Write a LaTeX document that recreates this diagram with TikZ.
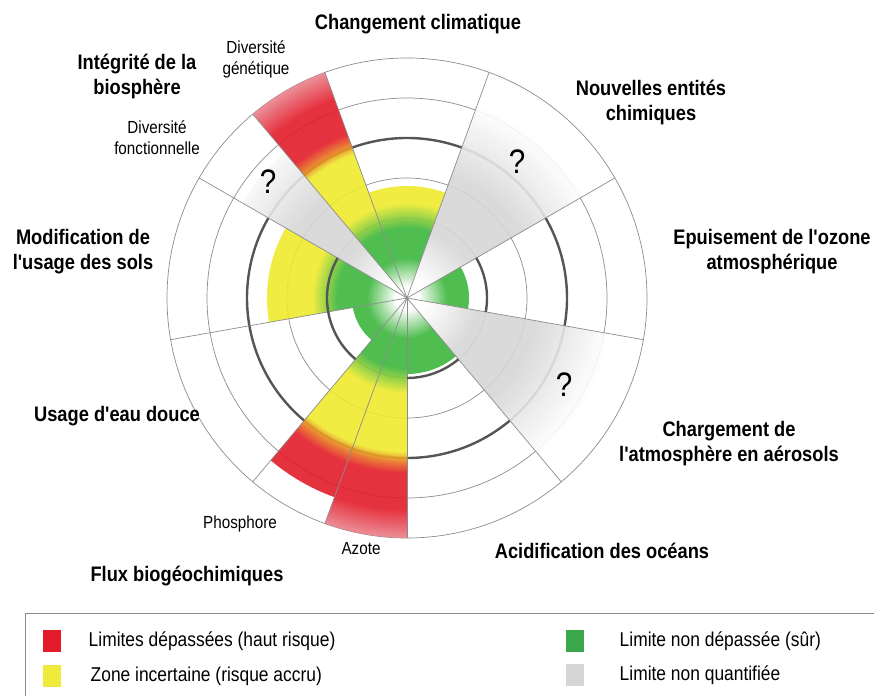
\documentclass[tikz,border=0pt]{standalone}
\usepackage{fontspec}
\setmainfont{Liberation Sans}
\newfontfamily\pbfont[FakeStretch=0.87]{Liberation Sans}
\usetikzlibrary{positioning}

\definecolor{pbgreen}{RGB}{60,182,60}
\definecolor{pbyellow}{RGB}{238,234,45}
\definecolor{pborange}{RGB}{232,120,30}
\definecolor{pbred}{RGB}{226,28,42}
\definecolor{pbpink}{RGB}{234,130,140}
\definecolor{pbgrey}{RGB}{214,214,214}
\definecolor{pbpale}{RGB}{236,236,236}
\definecolor{pbline}{RGB}{140,140,140}
\definecolor{pbdark}{RGB}{85,85,85}
\definecolor{pbkgreen}{RGB}{58,168,74}
\definecolor{pbkyellow}{RGB}{240,234,60}

% radial shadings: 25bp is the outer circle (r = 240)
\pgfdeclareradialshading{safezone}{\pgfpointorigin}{color(0bp)=(white); color(1.2bp)=(white);
  color(4.2bp)=(pbgreen); color(50bp)=(pbgreen)}
\pgfdeclareradialshading{climzone}{\pgfpointorigin}{color(0bp)=(white); color(1.2bp)=(white);
  color(4.2bp)=(pbgreen); color(7.3bp)=(pbgreen); color(9.9bp)=(pbyellow); color(50bp)=(pbyellow)}
\pgfdeclareradialshading{riskzone}{\pgfpointorigin}{color(0bp)=(white); color(1.2bp)=(white);
  color(4.2bp)=(pbgreen); color(7.3bp)=(pbgreen); color(9.9bp)=(pbyellow); color(16bp)=(pbyellow);
  color(17bp)=(pborange); color(18.2bp)=(pbred); color(22bp)=(pbred); color(25bp)=(pbpink); color(50bp)=(pbpink)}
\pgfdeclareradialshading{greyzone}{\pgfpointorigin}{color(0bp)=(white); color(2bp)=(white);
  color(7.3bp)=(pbgrey); color(13.5bp)=(pbgrey); color(17.7bp)=(pbpale); color(21.4bp)=(white); color(50bp)=(white)}

\tikzset{
  pbring/.style={draw=pbline, line width=0.7pt},
  pbbound/.style={draw=pbdark, line width=2.4pt},
  spoke/.style={draw=pbline, line width=0.7pt},
  pbtitle/.style={font=\pbfont\bfseries\fontsize{21}{25}\selectfont, align=center},
  pbsub/.style={font=\pbfont\fontsize{17.5}{21}\selectfont, align=center},
  pbq/.style={font=\pbfont\fontsize{34}{34}\selectfont},
  keytext/.style={font=\pbfont\fontsize{20}{22}\selectfont},
  swatch/.style={minimum width=18pt, minimum height=22pt, inner sep=0pt},
}

% one coloured wedge: shading, start angle, end angle, radius
\newcommand\pbwedge[4]{%
  \begin{scope}
    \clip (C) -- ++(#2:#4) arc[start angle=#2, end angle=#3, radius=#4] -- cycle;
    \shade[shading=#1, fill opacity=.9] (C) circle (240);
  \end{scope}}

\begin{document}
\begin{tikzpicture}[x=1pt, y=1pt]
  \useasboundingbox (0,0) rectangle (874,695);
  \coordinate (C) at (407,397);

  % rings
  \foreach \r in {80,120,200,240}
    \draw[pbring] (C) circle (\r);
  \draw[pbbound] (C) circle (160);

  % the nine boundaries
  \pbwedge{climzone}{70}{110}{112}    % climat
  \pbwedge{greyzone}{30}{70}{205}     % entites
  \pbwedge{safezone}{-10}{30}{62}     % ozone
  \pbwedge{greyzone}{-50}{-10}{215}   % aerosols
  \pbwedge{safezone}{-90}{-50}{76}    % oceans
  \pbwedge{riskzone}{-110}{-90}{243}  % azote
  \pbwedge{riskzone}{-130}{-110}{212} % phosphore
  \pbwedge{safezone}{190}{230}{55}    % eau douce
  \pbwedge{climzone}{150}{190}{140}   % sols
  \pbwedge{greyzone}{130}{150}{190}   % fonctionnelle
  \pbwedge{riskzone}{110}{130}{240}   % genetique

  \foreach \a in {30,70,110,130,150,190,230,250,270,310,350}
    \draw[spoke] (C) -- ++(\a:240);
  \foreach \a/\b in {-10/30, -90/-50, 150/230}
    \draw[pbbound] (C) ++(\a:80) arc[start angle=\a, end angle=\b, radius=80];

  \node[pbq] (q1) at (268,513) {?};
  \node[pbq] (q2) at (517,533) {?};
  \node[pbq] (q3) at (564,310) {?};

  % labels
  \node[pbtitle] (climat) at (418,671) {Changement climatique};
  \node[pbtitle] (biosphere) at (137,619) {Intégrité de la\\biosphère};
  \node[pbsub] (genetique) at (256,636) {Diversité\\génétique};
  \node[pbsub] (fonction) at (157,557) {Diversité\\fonctionnelle};
  \node[pbtitle] (sols) at (83,443) {Modification de\\l'usage des sols};
  \node[pbtitle] (eau) at (117,279) {Usage d'eau douce};
  \node[pbsub] (phosphore) at (240,171) {Phosphore};
  \node[pbsub] (azote) at (361,146) {Azote};
  \node[pbtitle] (flux) at (187,119) {Flux biogéochimiques};
  \node[pbtitle] (oceans) at (602,144) {Acidification des océans};
  \node[pbtitle] (aerosols) at (729,251) {Chargement de\\l'atmosphère en aérosols};
  \node[pbtitle] (ozone) at (772,443) {Epuisement de l'ozone\\atmosphérique};
  \node[pbtitle] (entites) at (651,593) {Nouvelles entités\\chimiques};

  % legend
  \draw[pbline, line width=0.8pt] (25,-10) rectangle (890,82);
  \node[swatch, fill=pbred] (kred) at (52,54) {};
  \node[swatch, fill=pbkyellow] (kyellow) at (52,19) {};
  \node[swatch, fill=pbkgreen] (kgreen) at (575,54) {};
  \node[swatch, fill=pbgrey] (kgrey) at (575,20) {};
  \node[keytext, right=24pt of kred] (tred) {Limites dépassées (haut risque)};
  \node[keytext, right=26pt of kyellow] (tyellow) {Zone incertaine (risque accru)};
  \node[keytext, right=32pt of kgreen] (tgreen) {Limite non dépassée (sûr)};
  \node[keytext, right=32pt of kgrey] (tgrey) {Limite non quantifiée};
\end{tikzpicture}
\end{document}
